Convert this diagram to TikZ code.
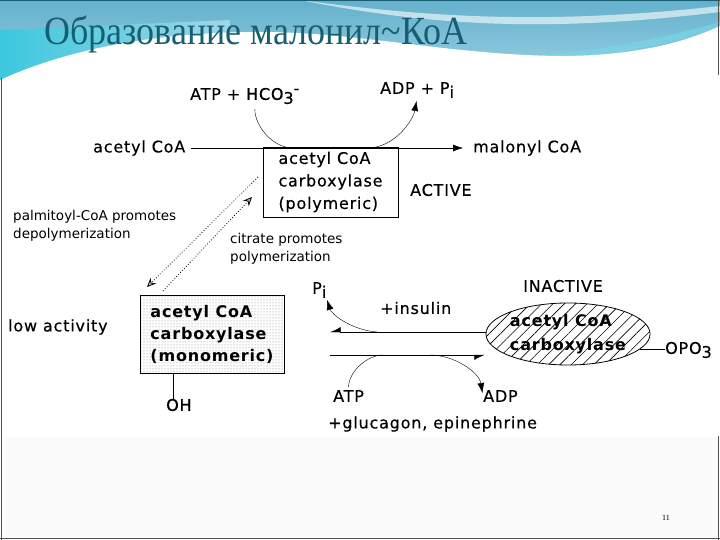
\documentclass[tikz,border=0pt]{standalone}
\usepackage{fontspec}
\usepackage{graphicx}
\setmainfont{Liberation Serif}
\newfontfamily\diafont[LetterSpace=5,FakeBold=0.4]{DejaVu Sans}
\newfontfamily\diaboldfont[LetterSpace=5]{DejaVu Sans Bold}
\newfontfamily\notefont{DejaVu Sans}
\usetikzlibrary{arrows,arrows.meta,patterns,patterns.meta,shapes.geometric}

\definecolor{titlecol}{RGB}{24,94,112}
\definecolor{skytop}{RGB}{100,176,204}
\definecolor{skybot}{RGB}{160,214,230}
\definecolor{cyanband}{RGB}{60,200,222}
\definecolor{framecol}{RGB}{80,80,80}

\newcommand{\lowsub}[1]{\raisebox{-4pt}{#1}}

\begin{document}
\begin{tikzpicture}[x=1pt,y=-1pt]
\tikzset{lbl/.style = {font=\diafont\fontsize{16}{18}\selectfont, inner sep=0pt, anchor=west, align=left}}
\tikzset{note/.style = {font=\notefont\fontsize{13.5}{18}\selectfont, inner sep=0pt, anchor=west, align=left}}
\tikzset{edge/.style = {->,> = {Latex[length=10pt,width=7pt]}}}
\tikzset{halfedge/.style = {->,> = {Latex[length=10pt,width=10pt,harpoon,swap]}}}
\tikzset{dotedge/.style = {dotted, thick, ->, > = {Stealth[length=9pt,width=8pt,fill=gray!50]}}}
\tikzset{enzyme/.style = {draw, thick, align=left, inner sep=0pt}}

\useasboundingbox (0,0) rectangle (720,540);
\fill[white] (0,0) rectangle (720,540);

% header
\shade[top color=skytop, bottom color=skybot] (0,0) rectangle (720,90);
\shade[left color=cyanband, right color=skybot] (0,30) -- (0,82) -- (230,34) -- (230,20) -- cycle;
\fill[white, opacity=.6] (300,0) .. controls (420,16) and (540,26) .. (720,6) -- (720,12) .. controls (540,34) and (420,24) .. (300,0) -- cycle;
\fill[cyanband!70, opacity=.6] (370,40) .. controls (470,64) and (580,62) .. (720,22) -- (720,30) .. controls (580,68) and (470,68) .. (370,40) -- cycle;
\fill[white] (0,80) .. controls (70,48) and (160,32) .. (260,32) .. controls (360,32) and (450,55) .. (560,56) .. controls (640,56) and (690,40) .. (720,26) -- (720,540) -- (0,540) -- cycle;
\fill[black!2] (4,438) rectangle (718,537);

% frame
\draw[titlecol, line width=1.5pt] (0,0.75) -- (720,0.75);
\draw[framecol, line width=1.5pt] (1.5,78) -- (1.5,540);
\draw[framecol, line width=1.5pt] (0,538.5) -- (720,538.5);
\draw[framecol, line width=1.5pt] (718.5,0) -- (718.5,75);
\draw[framecol, line width=1.5pt] (718.5,436) -- (718.5,540);

% title
\node[anchor=west, inner sep=0pt, text=titlecol, font=\fontsize{40}{40}\selectfont] (title) at (44,34) {\scalebox{0.9}[1]{Образование малонил\textasciitilde КоА}};
\node[font=\fontsize{8}{8}\selectfont] (pagenum) at (666,518) {11};

% active enzyme
\node[lbl] (atp1) at (190,96) {ATP + HCO\lowsub{3}\raisebox{6pt}{-}};
\node[lbl] (adp1) at (380,90) {ADP + P\lowsub{i}};
\node[lbl] (acoa) at (93,148) {acetyl CoA};
\node[lbl] (mcoa) at (473,148) {malonyl CoA};
\node[enzyme, minimum width=135, minimum height=70, font=\diafont\fontsize{16}{22.5}\selectfont] (poly) at (330.5,182) {acetyl CoA\\carboxylase\\(polymeric)};
\node[lbl] (active) at (410,190) {ACTIVE};

\coordinate (cin) at (293,148);
\coordinate (cout) at (367,148);
\draw[edge, shorten <=6pt, shorten >=10pt] (acoa) -- (mcoa);
\draw[shorten <=5pt] ([xshift=10pt]atp1.south) .. controls +(0,22) and +(-20,0) .. (cin);
\draw[edge, shorten >=3pt] (cout) .. controls +(28,0) and +(-4,22) .. (adp1.south);

% polymerization
\node[note] (palm) at (13,226) {palmitoyl-CoA promotes\\depolymerization};
\node[note] (citr) at (230,249) {citrate promotes\\polymerization};
\coordinate (dtop) at (258,177);
\coordinate (dbot) at (147,287);
\coordinate (ubot) at (163,291);
\coordinate (utop) at (252,197);
\draw[dotedge] (dtop) -- (dbot);
\draw[dotedge] (ubot) -- (utop);

% monomer
\node[enzyme, minimum width=144, minimum height=78, pattern=dots, pattern color=gray, font=\diaboldfont\fontsize{16}{22}\selectfont] (mono) at (212,334) {acetyl CoA\\carboxylase\\(monomeric)};
\node[lbl] (low) at (8,327) {low activity};
\node[lbl] (oh) at (166,405) {OH};
\draw ([xshift=-6pt]oh.north) -- ([xshift=-6pt]oh.north |- mono.south);

% phosphorylated enzyme
\node[lbl] (pi2) at (312,290) {P\lowsub{i}};
\node[lbl] (ins) at (380,308) {+insulin};
\node[lbl] (inact) at (523,286) {INACTIVE};
\node[ellipse, draw, thick, minimum width=146, minimum height=62, inner sep=0pt, align=left,
  pattern={Lines[angle=45,distance=8pt,line width=0.6pt]},
  font=\diaboldfont\fontsize{16}{24}\selectfont] (phos) at (568,334) {acetyl CoA\\carboxylase};
\node[lbl] (opo) at (665,350) {OPO\lowsub{3}};
\draw (phos.-12) -- (phos.-12 -| opo.west);

\coordinate (dR1) at (486,332);
\coordinate (dL1) at (330,332);
\coordinate (dL2) at (330,355);
\coordinate (dR2) at (485,355);
\draw[halfedge] (dR1) -- (dL1);
\draw[halfedge] (dL2) -- (dR2);

\coordinate (pin) at (377,332);
\coordinate (aon) at (383,355);
\coordinate (aoff) at (430,355);
\node[lbl] (atp2) at (333,396) {ATP};
\node[lbl] (adp2) at (483,396) {ADP};
\node[lbl] (gluc) at (328,424) {+glucagon, epinephrine};
\draw[edge, shorten >=2pt] (pin) .. controls +(-26,-2) and +(5,16) .. (pi2.south east);
\draw[shorten <=3pt] (atp2.north) .. controls +(0,-18) and +(-16,0) .. (aon);
\draw[edge, shorten >=3pt] (aoff) .. controls +(24,0) and +(-4,-24) .. (adp2.west);
\end{tikzpicture}
\end{document}
